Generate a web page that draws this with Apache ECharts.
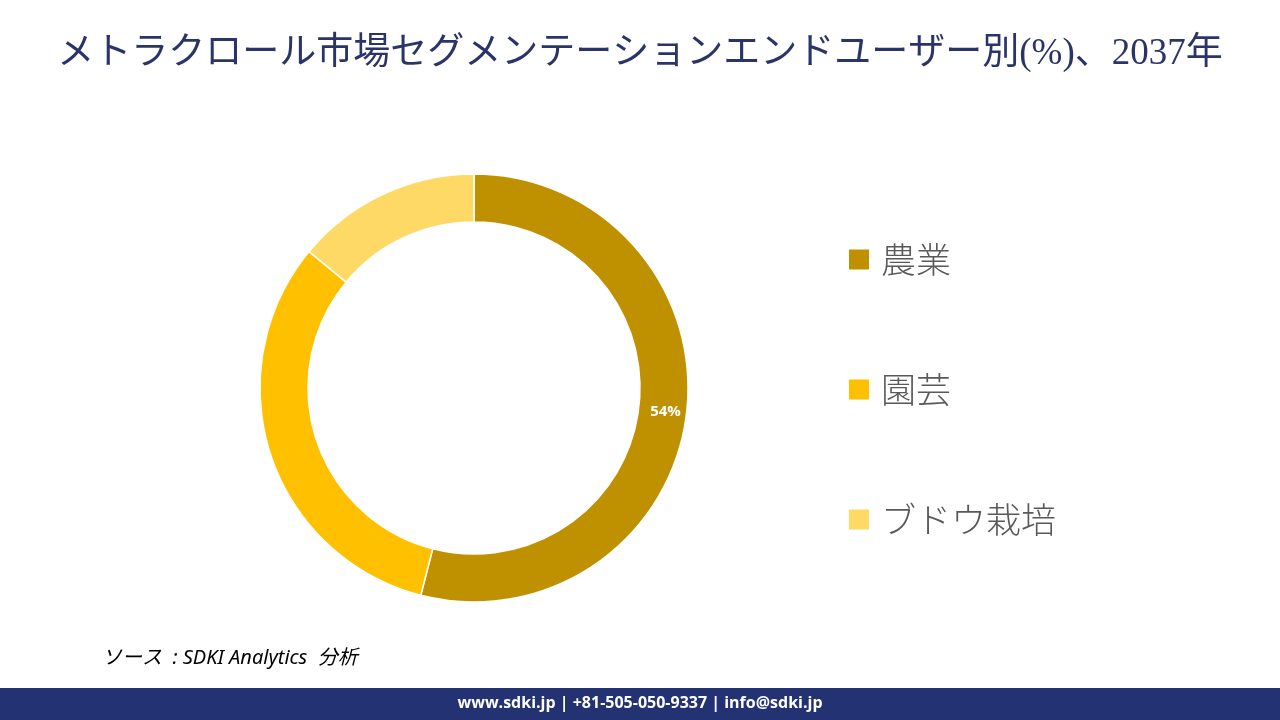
<!DOCTYPE html>
<html>
<head>
<meta charset="utf-8">
<script src="https://cdn.jsdelivr.net/npm/echarts@6/dist/echarts.min.js"></script>
<style>
html,body{margin:0;padding:0;background:#fff;}
#c{width:1280px;height:720px;}
</style>
</head>
<body>
<div id="c"></div>
<script>
const categories = ['農業', '園芸', 'ブドウ栽培'];
const values = [54, 32, 14];
const colors = ['#BF9000', '#FFC000', '#FFD966'];
const shownLabels = [true, false, false];

const chart = echarts.init(document.getElementById('c'));
chart.setOption({
  backgroundColor: '#ffffff',
  animation: false,
  title: {
    text: 'メトラクロール市場セグメンテーションエンドユーザー別(%)、2037年',
    left: 'center',
    top: 31,
    textStyle: {
      fontFamily: '"Liberation Serif", "Noto Sans CJK JP", serif',
      fontSize: 37,
      fontWeight: 'normal',
      color: '#2B3468'
    }
  },
  legend: {
    orient: 'vertical',
    left: 847,
    top: 242,
    padding: 0,
    itemWidth: 22,
    itemHeight: 22,
    itemGap: 95,
    icon: 'rect',
    data: categories,
    textStyle: {
      fontFamily: '"Noto Sans CJK JP", sans-serif',
      fontSize: 35,
      fontWeight: 300,
      lineHeight: 35,
      color: '#595959',
      padding: [0, 0, 0, 6]
    }
  },
  graphic: [
    {
      type: 'text',
      left: 102,
      top: 648,
      style: {
        text: 'ソース  : SDKI Analytics  分析',
        font: 'italic 20px "Noto Sans", "Noto Sans CJK JP", sans-serif',
        fill: '#000000'
      }
    },
    {
      type: 'rect',
      left: 0,
      top: 688,
      shape: { width: 1280, height: 32 },
      style: { fill: '#233272' }
    },
    {
      type: 'text',
      left: 'center',
      top: 695,
      style: {
        text: 'www.sdki.jp | +81-505-050-9337 | info@sdki.jp',
        font: 'bold 16px "Open Sans", "Noto Sans", sans-serif',
        fill: '#ffffff'
      }
    }
  ],
  series: [{
    type: 'pie',
    center: [474, 388],
    radius: [166, 214],
    startAngle: 90,
    clockwise: true,
    avoidLabelOverlap: false,
    itemStyle: { borderColor: '#ffffff', borderWidth: 1.5 },
    label: {
      position: 'inside',
      formatter: '{d}%',
      color: '#ffffff',
      fontWeight: 'bold',
      fontSize: 15,
      fontFamily: '"Open Sans", "Noto Sans", sans-serif'
    },
    labelLine: { show: false },
    emphasis: { disabled: true },
    data: categories.map((c, i) => ({
      name: c,
      value: values[i],
      itemStyle: { color: colors[i] },
      label: { show: shownLabels[i] }
    }))
  }]
});
</script>
</body>
</html>
